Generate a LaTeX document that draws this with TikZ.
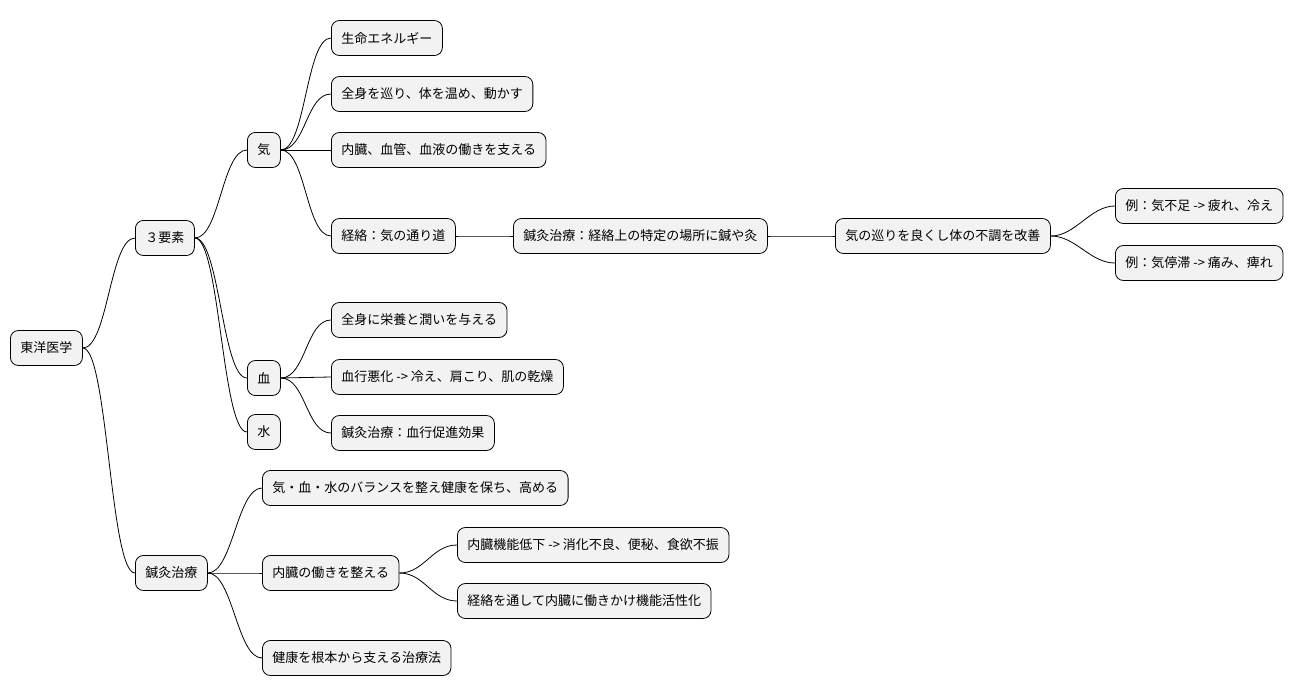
\documentclass[tikz,border=0pt]{standalone}
\usepackage{fontspec}
\setmainfont{Noto Sans CJK JP}
\begin{document}
\begin{tikzpicture}[x=1pt,y=-1pt,
  mm/.style={draw=black,line width=0.8pt,fill=black!5,rounded corners=8pt,anchor=west,
    minimum height=35pt,inner xsep=10pt,font=\fontsize{13}{15}\selectfont},
  ln/.style={line width=0.8pt}]
\useasboundingbox (0,0) rectangle (1312,696);
\node[mm] (r) at (10,348) {東洋医学};
\node[mm] (y) at (135,238) {３要素};
\node[mm] (s) at (135,573) {鍼灸治療};
\node[mm] (ki) at (247,150) {気};
\node[mm] (ke) at (247,378) {血};
\node[mm] (mi) at (247,432) {水};
\node[mm] (a1) at (331,38) {生命エネルギー};
\node[mm] (a2) at (331,94) {全身を巡り、体を温め、動かす};
\node[mm] (a3) at (331,150) {内臓、血管、血液の働きを支える};
\node[mm] (a4) at (331,236) {経絡：気の通り道};
\node[mm] (b1) at (513,236) {鍼灸治療：経絡上の特定の場所に鍼や灸};
\node[mm] (c1) at (835,236) {気の巡りを良くし体の不調を改善};
\node[mm] (d1) at (1115,206) {例：気不足 -> 疲れ、冷え};
\node[mm] (d2) at (1115,263) {例：気停滞 -> 痛み、痺れ};
\node[mm] (e1) at (331,320) {全身に栄養と潤いを与える};
\node[mm] (e2) at (331,377) {血行悪化 -> 冷え、肩こり、肌の乾燥};
\node[mm] (e3) at (331,433) {鍼灸治療：血行促進効果};
\node[mm] (f1) at (262,488) {気・血・水のバランスを整え健康を保ち、高める};
\node[mm] (f2) at (262,573) {内臓の働きを整える};
\node[mm] (f3) at (262,658) {健康を根本から支える治療法};
\node[mm] (g1) at (457,545) {内臓機能低下 -> 消化不良、便秘、食欲不振};
\node[mm] (g2) at (457,601) {経絡を通して内臓に働きかけ機能活性化};
\foreach \p/\c in {r/y,r/s,y/ki,y/ke,y/mi,ki/a1,ki/a2,ki/a3,ki/a4,a4/b1,b1/c1,c1/d1,c1/d2,ke/e1,ke/e2,ke/e3,s/f1,s/f2,s/f3,f2/g1,f2/g2}
  \draw[ln] (\p.east) .. controls ([xshift=25pt]\p.east) and ([xshift=-25pt]\c.west) .. (\c.west);
\end{tikzpicture}
\end{document}
